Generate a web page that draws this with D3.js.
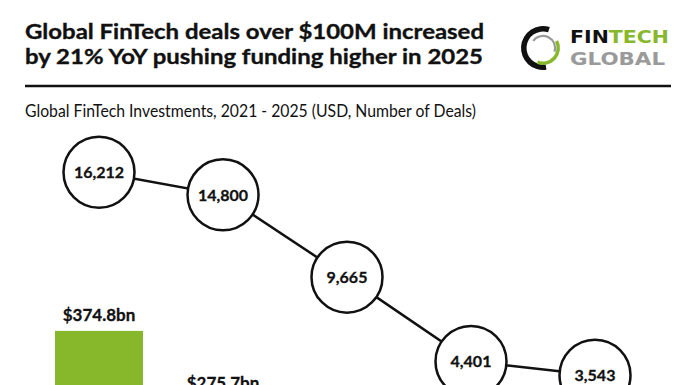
<!DOCTYPE html>
<html>
<head>
<meta charset="utf-8">
<script src="https://cdn.jsdelivr.net/npm/d3@7"></script>
<style>
  html, body { margin: 0; padding: 0; background: #fff; overflow: hidden; }
  svg { display: block; font-family: Lato, "Open Sans", sans-serif; }
</style>
</head>
<body>
<svg id="chart" width="696" height="385"></svg>
<script>
// ---- data ----
const years = ["2021", "2022", "2023", "2024", "2025"];
const deals = [16212, 14800, 9665, 4401, 3543];
const funding = [374.8, 275.7, null, null, null]; // USD bn; later bars lie below the visible crop
const titleLines = ["Global FinTech deals over $100M increased", "by 21% YoY pushing funding higher in 2025"];
const subtitle = "Global FinTech Investments, 2021 - 2025 (USD, Number of Deals)";

const W = 696, H = 385;
const GREEN = "#87b72b";
const svg = d3.select("#chart");

// ---- header ----
svg.append("text").attr("x", 25).attr("y", 39)
  .attr("font-size", 21.5).attr("font-weight", 700).attr("fill", "#111")
  .attr("stroke", "#111").attr("stroke-width", 0.35)
  .attr("textLength", 459).attr("lengthAdjust", "spacingAndGlyphs")
  .text(titleLines[0]);
svg.append("text").attr("x", 25).attr("y", 63.5)
  .attr("font-size", 21.5).attr("font-weight", 700).attr("fill", "#111")
  .attr("stroke", "#111").attr("stroke-width", 0.35)
  .attr("textLength", 458).attr("lengthAdjust", "spacingAndGlyphs")
  .text(titleLines[1]);
svg.append("line").attr("x1", 25).attr("x2", 671).attr("y1", 86).attr("y2", 86)
  .attr("stroke", "#111").attr("stroke-width", 2.5);

// logo
const logo = svg.append("g").attr("transform", "translate(543,48)");
const arc = d3.arc();
logo.append("path").attr("fill", "#111")
  .attr("d", arc({innerRadius: 16.5, outerRadius: 22, startAngle: Math.PI * 0.1, endAngle: -Math.PI * 1.05}));
logo.append("path").attr("fill", GREEN)
  .attr("d", arc({innerRadius: 13.5, outerRadius: 17, startAngle: Math.PI * 0.35, endAngle: Math.PI * 1.12}));
logo.append("path").attr("fill", "#9a9a9a")
  .attr("d", arc({innerRadius: 11, outerRadius: 13.2, startAngle: -Math.PI * 0.3, endAngle: Math.PI * 0.6}));
const ft = svg.append("text").attr("x", 570).attr("y", 43)
  .attr("font-family", "'DejaVu Sans', sans-serif").attr("font-size", 18).attr("font-weight", 700)
  .attr("textLength", 99).attr("lengthAdjust", "spacingAndGlyphs");
ft.append("tspan").attr("fill", "#111").text("FIN");
ft.append("tspan").attr("fill", GREEN).text("TECH");
svg.append("text").attr("x", 570).attr("y", 65)
  .attr("font-family", "'DejaVu Sans', sans-serif").attr("font-size", 18).attr("font-weight", 700)
  .attr("fill", "#9a9a9a").attr("textLength", 95).attr("lengthAdjust", "spacingAndGlyphs")
  .text("GLOBAL");

// subtitle
svg.append("text").attr("x", 25).attr("y", 117)
  .attr("font-size", 16.5).attr("fill", "#111")
  .attr("textLength", 451).attr("lengthAdjust", "spacingAndGlyphs")
  .text(subtitle);

// ---- scales ----
const x = d3.scalePoint().domain(years).range([99, 595]);
const yBar = d3.scaleLinear().domain([0, 400]).range([588, 313.6]);
const yDeal = d3.scaleLinear().domain([0, 17000]).range([432, 159.6]);
const barW = 88;

// ---- bars (funding) ----
const barData = years.map((y, i) => ({year: y, v: funding[i]})).filter(d => d.v != null);
svg.selectAll("rect.bar").data(barData).join("rect").attr("class", "bar")
  .attr("x", d => x(d.year) - barW / 2).attr("width", barW)
  .attr("y", d => yBar(d.v)).attr("height", d => yBar(0) - yBar(d.v))
  .attr("fill", GREEN);
svg.selectAll("text.blab").data(barData).join("text").attr("class", "blab")
  .attr("x", d => x(d.year)).attr("y", d => yBar(d.v) - 10)
  .attr("text-anchor", "middle").attr("font-size", 17).attr("font-weight", 700).attr("fill", "#111")
  .attr("stroke", "#111").attr("stroke-width", 0.3)
  .text(d => "$" + d.v.toFixed(1) + "bn");

// ---- deals line with circles ----
const dealData = years.map((y, i) => ({year: y, v: deals[i]}));
svg.append("path").datum(dealData)
  .attr("fill", "none").attr("stroke", "#111").attr("stroke-width", 2.5)
  .attr("d", d3.line().x(d => x(d.year)).y(d => yDeal(d.v)));
svg.selectAll("circle.deal").data(dealData).join("circle").attr("class", "deal")
  .attr("cx", d => x(d.year)).attr("cy", d => yDeal(d.v)).attr("r", 35.5)
  .attr("fill", "#fff").attr("stroke", "#111").attr("stroke-width", 2.5);
svg.selectAll("text.dlab").data(dealData).join("text").attr("class", "dlab")
  .attr("x", d => x(d.year)).attr("y", d => yDeal(d.v) + 6)
  .attr("text-anchor", "middle").attr("font-size", 16).attr("font-weight", 700).attr("fill", "#111")
  .attr("stroke", "#111").attr("stroke-width", 0.3)
  .text(d => d3.format(",")(d.v));
</script>
</body>
</html>
